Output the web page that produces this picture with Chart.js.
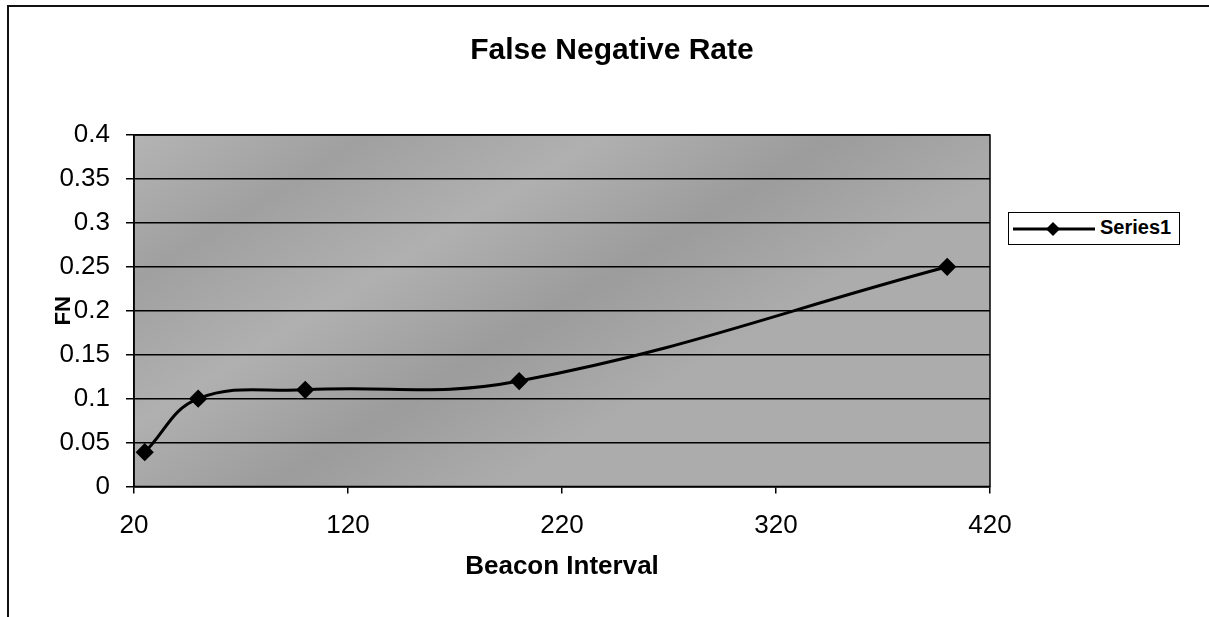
<!DOCTYPE html>
<html>
<head>
<meta charset="utf-8">
<title>False Negative Rate</title>
<script src="https://cdn.jsdelivr.net/npm/chart.js@4"></script>
<style>
    html, body { margin: 0; padding: 0; background: #fff; }
    #wrap { position: relative; width: 1209px; height: 617px; overflow: hidden; }
    #frame {
        position: absolute; left: 7px; top: 5px; width: 1210px; height: 620px;
        border-top: 2px solid #111; border-left: 2px solid #111;
    }
    #fnChart { position: absolute; left: 0; top: 0; }
    #legendBox {
        position: absolute; left: 1008px; top: 212px; width: 170px; height: 31px;
        border: 1.5px solid #000; background: #fff;
        font: bold 20px "Liberation Sans", Arial, sans-serif; color: #000;
    }
    #legendBox svg { position: absolute; left: 4px; top: 5px; }
    #legendBox span { position: absolute; left: 91px; top: 3px; }
</style>
</head>
<body>
<div id="wrap">
    <div id="frame"></div>
    <canvas id="fnChart" width="1209" height="617"></canvas>
    <div id="legendBox">
        <svg width="82" height="22"><line x1="0" y1="11" x2="82" y2="11" stroke="#000" stroke-width="3"/><polygon points="40,4 47,11 40,18 33,11" fill="#000"/></svg>
        <span>Series1</span>
    </div>
</div>
<script>
// --- data ---
const beaconInterval = [25, 50, 100, 200, 400];
const fnRate = [0.039, 0.1, 0.11, 0.12, 0.25];
const xTickValues = [20, 120, 220, 320, 420];
const yTickValues = [0, 0.05, 0.1, 0.15, 0.2, 0.25, 0.3, 0.35, 0.4];
const seriesName = 'Series1';
const chartTitle = 'False Negative Rate';

const FONT = '"Liberation Sans", Arial, sans-serif';

// streaky gray fill, a rough stand-in for the textured plot area
function makePlotFill(ctx, a) {
    const g = ctx.createLinearGradient(a.left, a.top, a.left + 260, a.top + 420);
    const stops = [0, '#b4b4b4', 0.25, '#a0a0a0', 0.5, '#b0b0b0', 0.75, '#9c9c9c', 1, '#acacac'];
    for (let i = 0; i < stops.length; i += 2) g.addColorStop(stops[i], stops[i + 1]);
    return g;
}

const plotFrame = {
    id: 'plotFrame',
    beforeDraw(chart) {
        const { ctx, chartArea: a } = chart;
        ctx.save();
        ctx.fillStyle = makePlotFill(ctx, a);
        ctx.fillRect(a.left, a.top, a.right - a.left, a.bottom - a.top);
        ctx.restore();
    },
    afterDatasetsDraw(chart) {
        const { ctx, chartArea: a } = chart;
        ctx.save();
        ctx.strokeStyle = '#000';
        ctx.lineWidth = 1.5;
        ctx.strokeRect(a.left, a.top, a.right - a.left, a.bottom - a.top);
        ctx.restore();
    },
    afterDraw(chart) {
        const { ctx } = chart;
        ctx.save();
        ctx.fillStyle = '#000';
        ctx.textAlign = 'center';
        ctx.textBaseline = 'middle';
        // title is centred on the whole frame, not on the plot
        ctx.font = 'bold 30px ' + FONT;
        ctx.fillText(chartTitle, 612, 51);
        // "FN" axis title sits beside the 0.2 label, like in the source
        const y = chart.scales.y.getPixelForValue(0.2);
        ctx.translate(64, y);
        ctx.rotate(-Math.PI / 2);
        ctx.font = 'bold 22px ' + FONT;
        ctx.fillText('FN', 0, 0);
        ctx.restore();
    }
};

let fnChartInstance = null;

function initFnChart() {
    const ctx = document.getElementById('fnChart');
    if (!ctx) return;
    if (fnChartInstance) fnChartInstance.destroy();

    fnChartInstance = new Chart(ctx.getContext('2d'), {
        type: 'line',
        data: {
            datasets: [{
                label: seriesName,
                data: beaconInterval.map((x, i) => ({ x: x, y: fnRate[i] })),
                borderColor: '#000',
                backgroundColor: '#000',
                borderWidth: 3,
                tension: 0.4,
                pointStyle: 'rectRot',
                pointRadius: 7,
                pointHoverRadius: 7
            }]
        },
        options: {
            responsive: false,
            animation: false,
            layout: { padding: { left: 0, right: 219, top: 135, bottom: 0 } },
            plugins: {
                legend: { display: false },
                tooltip: { enabled: false },
                title: { display: false }
            },
            scales: {
                x: {
                    type: 'linear',
                    min: 20,
                    max: 420,
                    afterBuildTicks: (s) => { s.ticks = xTickValues.map(v => ({ value: v })); },
                    afterFit: (s) => { s.height = 130.5; },
                    grid: { drawOnChartArea: false, color: '#000', tickLength: 7, lineWidth: 1.5 },
                    border: { color: '#000', width: 1.5 },
                    ticks: { color: '#000', padding: 17, maxRotation: 0, font: { family: FONT, size: 26 } },
                    title: {
                        display: true,
                        text: 'Beacon Interval',
                        color: '#000',
                        font: { family: FONT, size: 26, weight: 'bold' },
                        padding: { top: 0, bottom: 35 }
                    }
                },
                y: {
                    min: 0,
                    max: 0.4,
                    afterBuildTicks: (s) => { s.ticks = yTickValues.map(v => ({ value: v })); },
                    afterFit: (s) => { s.width = 134; },
                    grid: { color: '#000', lineWidth: 1.5, tickLength: 8 },
                    border: { color: '#000', width: 1.5 },
                    ticks: {
                        color: '#000',
                        padding: 16,
                        font: { family: FONT, size: 26 },
                        callback: (v) => String(+v.toFixed(2))
                    }
                }
            }
        },
        plugins: [plotFrame]
    });
}

initFnChart();
</script>
</body>
</html>
